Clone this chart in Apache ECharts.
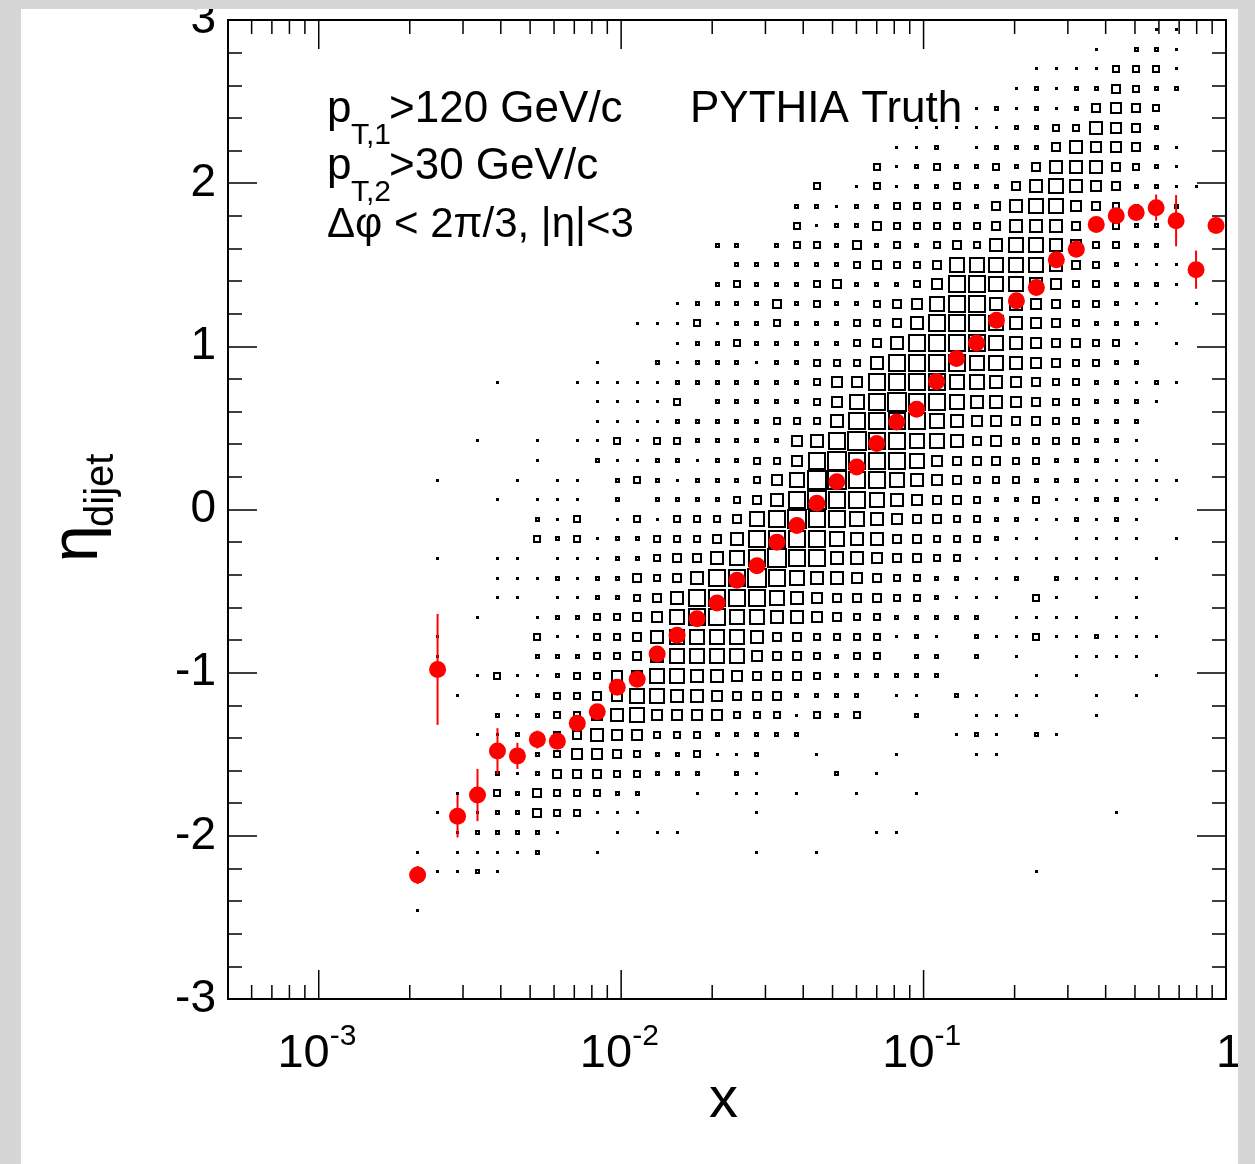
<!DOCTYPE html>
<html><head><meta charset="utf-8">
<script src="https://cdn.jsdelivr.net/npm/echarts@6/dist/echarts.min.js"></script>
<style>html,body{margin:0;padding:0;background:#fff;}#chart{width:1255px;height:1164px;}</style>
</head><body><div id="chart"></div>
<script>
// ---- histogram binning (x: log10 bins, y: eta bins) ----
const X_LOG_MIN = -3.3, X_LOG_MAX = 0, NX = 50;
const Y_MIN = -3, Y_MAX = 3, NY = 50;

// 2D histogram bin contents (relative level 0-9), one string per eta bin,
// top row = eta bin 49 ... bottom row = eta bin 0; characters = x bins 0..49 (groups of 10)
const boxRows = [
 "0000000000 0000000000 0000000000 0000000000 0000001100", // 49
 "0000000000 0000000000 0000000000 0000000000 0001022100", // 48
 "0000000000 0000000000 0000000000 0000000000 1111333100", // 47
 "0000000000 0000000000 0000000000 0000000001 2122432200", // 46
 "0000000000 0000000000 0000000000 0000000121 2124543000", // 45
 "0000000000 0000000000 0000000000 0000111112 2336542000", // 44
 "0000000000 0000000000 0000000000 0001120122 2465542100", // 43
 "0000000000 0000000000 0000000000 0031232232 4666432100", // 42
 "0000000000 0000000000 0000000003 0131223224 6765422110", // 41
 "0000000000 0000000000 0000000022 1223333246 7754322200", // 40
 "0000000000 0000000000 0000000031 2243333346 6644322200", // 39
 "0000000000 0000000000 0000220233 2423234367 7653322000", // 38
 "0000000000 0000000000 0000022222 2343347777 7643211100", // 37
 "0000000000 0000000000 0000232223 4222358877 6533222100", // 36
 "0000000000 0000000000 0012222423 2234578866 5433211010", // 35
 "0000000000 0000000000 1113122322 2334688876 5432221000", // 34
 "0000000000 0000000000 0012232222 2346888876 5443310100", // 33
 "0000000000 0000000010 0212221223 3368888776 5433220000", // 32
 "0000000000 0001000111 1122222223 5588887765 4332212100", // 31
 "0000000000 0000000011 1130222223 5789887665 4332221000", // 30
 "0000000000 0000000011 1122222333 6888876554 4332220000", // 29
 "0000000000 0010010113 1332222256 8988776453 3332210000", // 28
 "0000000000 0000010021 1221223358 9888754443 3222111000", // 27
 "0000000000 1000101102 3212223579 9887654333 2221111100", // 26
 "0000000000 0001011102 0222234689 8876544322 3112211000", // 25
 "0000000000 0000021301 3133347898 8765443322 1121210000", // 24
 "0000000000 0000032312 2333468888 7664433321 1011110100", // 23
 "0000000000 1001101112 2344678988 6654433111 1111101000", // 22
 "0000000000 0001112122 4346889876 6543322112 0211110000", // 21
 "0000000000 0001101122 3468888765 4443321110 3101010000", // 20
 "0000000000 0010012233 4578877665 4332222201 1110110000", // 19
 "0000000000 1000031133 4677776443 3331210211 3112111000", // 18
 "0000000000 1000022233 4677775443 2330220201 0011110000", // 17
 "0000000000 0013112335 5776654443 2222220000 1010001000", // 16
 "0000000000 0100123345 7766544422 2201102101 1001010000", // 15
 "0000000000 0002123356 7555533313 2300200111 0001000000", // 14
 "0000000000 0011223465 5333222220 0000001210 2100000000", // 13
 "0000000000 0002223554 3223112001 0001000110 0000000000", // 12
 "0000000000 0002124443 3222021000 2010000000 0000000000", // 11
 "0000000000 0103243332 2001011010 0100100000 0000000000", // 10
 "0000000000 1012243311 1000001000 0000000000 0000100000", // 9
 "0000000000 0122221001 0110000000 0011000000 0000000000", // 8
 "0000000001 0111120010 0000001001 0000000000 0000000000", // 7
 "0000000000 1121000000 0000000000 0000000000 1000000000", // 6
 "0000000000 0000000000 0000000000 0000000000 0000000000", // 5
 "0000000001 0000000000 0000000000 0000000000 0000000000", // 4
 "0000000000 0000000000 0000000000 0000000000 0000000000", // 3
 "0000000000 0000000000 0000000000 0000000000 0000000000", // 2
 "0000000000 0000000000 0000000000 0000000000 0000000000", // 1
 "0000000000 0000000000 0000000000 0000000000 0000000000"  // 0
];

// profile (mean eta_dijet per x bin) with errors
const profileBin = [9,10,11,12,13,14,15,16,17,18,19,20,21,22,23,24,25,26,27,28,29,30,31,32,33,34,35,36,37,38,39,40,41,42,43,44,45,46,47,48,49];
const profileEta = [-2.24,-0.98,-1.88,-1.75,-1.48,-1.51,-1.41,-1.42,-1.31,-1.24,-1.09,-1.04,-0.885,-0.77,-0.67,-0.573,-0.434,-0.345,-0.20,-0.098,0.039,0.17,0.26,0.405,0.536,0.615,0.785,0.925,1.02,1.16,1.28,1.36,1.53,1.595,1.747,1.80,1.82,1.85,1.77,1.47,1.74];
const profileErr = [0.055,0.34,0.13,0.16,0.14,0.08,0.055,0.04,0.04,0.04,0.035,0.03,0.03,0.03,0.02,0.02,0.02,0.02,0.02,0.02,0.02,0.02,0.02,0.02,0.02,0.02,0.02,0.02,0.02,0.02,0.02,0.02,0.02,0.02,0.03,0.03,0.04,0.08,0.157,0.117,0.04];

// axis ticks and labels
const xMajorTicks = [1e-3, 1e-2, 1e-1, 1];
const xTickLabels = [["10","-3"],["10","-2"],["10","-1"],["1",""]];
const xMinorTicks = [6e-4,7e-4,8e-4,9e-4, 2e-3,3e-3,4e-3,5e-3,6e-3,7e-3,8e-3,9e-3,
                     2e-2,3e-2,4e-2,5e-2,6e-2,7e-2,8e-2,9e-2, 2e-1,3e-1,4e-1,5e-1,6e-1,7e-1,8e-1,9e-1];

const FONT = '"Liberation Sans", Arial, Helvetica, sans-serif';

function xEdge(k){ return Math.pow(10, X_LOG_MIN + (X_LOG_MAX - X_LOG_MIN) * k / NX); }
function xCenter(i){ return Math.pow(10, X_LOG_MIN + (X_LOG_MAX - X_LOG_MIN) * (i + 0.5) / NX); }
function yEdge(k){ return Y_MIN + (Y_MAX - Y_MIN) * k / NY; }

const boxData = [];
boxRows.forEach(function(row, r){
  const s = row.replace(/\s/g, '');
  const j = NY - 1 - r;
  for (let i = 0; i < NX; i++) {
    const c = +s[i];
    if (c > 0) boxData.push([xCenter(i), (yEdge(j) + yEdge(j + 1)) / 2, c, i, j]);
  }
});
const profileData = profileBin.map(function(b, k){ return [xCenter(b), profileEta[k], profileErr[k]]; });
const tickData = xMajorTicks.map(function(v){ return [v, Y_MIN, 1]; })
  .concat(xMinorTicks.map(function(v){ return [v, Y_MIN, 0]; }));
const labelData = xMajorTicks.map(function(v, k){ return [v, Y_MIN, k]; });

function txt(x, baseline, text, size){
  return {type:'text', x:x, y:baseline - 0.34 * size, z:50,
    style:{text:text, fill:'#000', fontSize:size, fontFamily:FONT, align:'left', verticalAlign:'middle'}};
}

const chart = echarts.init(document.getElementById('chart'));
const yAxisCommon = {
  type:'value', min:Y_MIN, max:Y_MAX, interval:1,
  axisLine:{show:false}, splitLine:{show:false},
  axisTick:{show:true, inside:true, length:29, lineStyle:{color:'#000', width:1.5}},
  minorTick:{show:true, splitNumber:5, length:14, lineStyle:{color:'#000', width:1.5}},
  minorSplitLine:{show:false}
};
chart.setOption({
  animation:false,
  backgroundColor:'#fff',
  grid:{left:228, top:20, right:29, bottom:165, show:true, borderColor:'#000', borderWidth:2,
        backgroundColor:'transparent', containLabel:false, outerBoundsMode:'none'},
  xAxis:{type:'log', logBase:10, min:Math.pow(10, X_LOG_MIN), max:1,
         axisLine:{show:false}, axisTick:{show:false}, axisLabel:{show:false}, splitLine:{show:false}},
  yAxis:[
    Object.assign({position:'left', axisLabel:{show:true, margin:12, fontSize:46, fontFamily:FONT, color:'#000'}}, yAxisCommon),
    Object.assign({position:'right', axisLabel:{show:false}}, yAxisCommon)
  ],
  series:[
    { type:'custom', name:'boxes', data:boxData, encode:{x:0, y:1}, z:2, clip:true,
      renderItem:function(params, api){
        const i = api.value(3), j = api.value(4), c = api.value(2);
        const pA = api.coord([xEdge(i), yEdge(j + 1)]);
        const pB = api.coord([xEdge(i + 1), yEdge(j)]);
        const w = pB[0] - pA[0], h = pB[1] - pA[1];
        const f = Math.min(0.9, (2.15 * c - 0.8) / 20);
        const bw = Math.max(1, Math.round(w * f)), bh = Math.max(1, Math.round(h * f));
        const cx = (pA[0] + pB[0]) / 2, cy = (pA[1] + pB[1]) / 2;
        return {type:'rect', shape:{x:Math.round(cx - bw / 2), y:Math.round(cy - bh / 2), width:bw, height:bh},
                style:{fill:'none', stroke:'#000', lineWidth:2}};
      }
    },
    { type:'custom', name:'errors', data:profileData, encode:{x:0, y:1}, z:3, clip:false,
      renderItem:function(params, api){
        const x = api.value(0), v = api.value(1), e = api.value(2);
        const a = api.coord([x, v - e]), b = api.coord([x, v + e]);
        return {type:'line', shape:{x1:a[0], y1:a[1], x2:b[0], y2:b[1]},
                style:{stroke:'#ff0000', lineWidth:2}};
      }
    },
    { type:'scatter', name:'profile', data:profileData.map(function(d){ return [d[0], d[1]]; }),
      symbol:'circle', symbolSize:17, itemStyle:{color:'#ff0000', opacity:1}, z:4 },
    { type:'custom', name:'xticks', data:tickData, encode:{x:0, y:1}, z:5, clip:false,
      renderItem:function(params, api){
        const p = api.coord([api.value(0), Y_MIN]);
        const cs = params.coordSys;
        const L = api.value(2) ? 29 : 14;
        const top = cs.y, bot = cs.y + cs.height;
        const st = {stroke:'#000', lineWidth:1.5};
        return {type:'group', children:[
          {type:'line', shape:{x1:p[0], y1:bot, x2:p[0], y2:bot - L}, style:st},
          {type:'line', shape:{x1:p[0], y1:top, x2:p[0], y2:top + L}, style:st}
        ]};
      }
    },
    { type:'custom', name:'xlabels', data:labelData, encode:{x:0, y:1}, z:5, clip:false,
      renderItem:function(params, api){
        const p = api.coord([api.value(0), Y_MIN]);
        const bot = params.coordSys.y + params.coordSys.height;
        const lab = xTickLabels[api.value(2)];
        if (!lab[1]) {
          return {type:'text', x:p[0] + 3, y:bot + 71 - 16,
                  style:{text:lab[0], fontSize:47, fontFamily:FONT, fill:'#000', align:'center', verticalAlign:'middle'}};
        }
        return {type:'group', children:[
          {type:'text', x:p[0] + 11, y:bot + 71 - 16,
           style:{text:lab[0], fontSize:47, fontFamily:FONT, fill:'#000', align:'right', verticalAlign:'middle'}},
          {type:'text', x:p[0] + 11, y:bot + 48 - 10,
           style:{text:lab[1], fontSize:30, fontFamily:FONT, fill:'#000', align:'left', verticalAlign:'middle'}}
        ]};
      }
    }
  ],
  graphic:[
    txt(327, 125, 'p', 44), txt(351, 146, 'T,1', 30), txt(389, 125, '>120 GeV/c', 44),
    txt(327, 182, 'p', 44), txt(351, 203, 'T,2', 30), txt(389, 182, '>30 GeV/c', 44),
    txt(327, 240, 'Δφ < 2π/3, |η|<3', 42),
    txt(690, 125, 'PYTHIA Truth', 44),
    {type:'text', x:723.5, y:1101, z:50, style:{text:'x', fontSize:58, fontFamily:FONT, fill:'#000', align:'center', verticalAlign:'middle'}},
    {type:'text', x:79, y:562, rotation:Math.PI / 2, z:50, style:{text:'η', fontSize:66, fontFamily:FONT, fill:'#000', align:'left', verticalAlign:'middle'}},
    {type:'text', x:102, y:527, rotation:Math.PI / 2, z:50, style:{text:'dijet', fontSize:40, fontFamily:FONT, fill:'#000', align:'left', verticalAlign:'middle'}},
    {type:'rect', z:100, shape:{x:0, y:0, width:21, height:1164}, style:{fill:'#d6d6d6'}},
    {type:'rect', z:100, shape:{x:0, y:0, width:1255, height:9}, style:{fill:'#d6d6d6'}},
    {type:'rect', z:100, shape:{x:1238, y:0, width:17, height:1164}, style:{fill:'#d6d6d6'}}
  ]
});
</script>
</body></html>
